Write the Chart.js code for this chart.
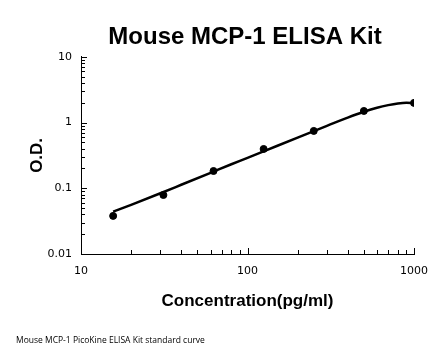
<!DOCTYPE html>
<html>
<head>
<meta charset="utf-8">
<script src="https://cdn.jsdelivr.net/npm/chart.js@4"></script>
<style>
  html, body { margin: 0; padding: 0; background: #fff; }
  #wrap { width: 446px; height: 356px; position: relative; }
</style>
</head>
<body>
<div id="wrap"><canvas id="c" width="446" height="356"></canvas></div>
<script>
// Standard points
const concentrations = [15.6, 31.25, 62.5, 125, 250, 500, 1000];
const odValues = [0.038, 0.079, 0.183, 0.396, 0.745, 1.50, 1.99];
// Fitted curve
const curveX = [15.6, 20, 30, 40, 60, 80, 100, 150, 200, 300, 400, 500, 600, 700, 800, 900, 1000];
const curveY = [0.044, 0.056, 0.084, 0.113, 0.172, 0.232, 0.29, 0.44, 0.59, 0.89, 1.19, 1.46, 1.68, 1.84, 1.95, 2.0, 1.97];
// Tick labels
const xTickValues = [10, 100, 1000];
const xTickLabels = ['10', '100', '1000'];
const yTickValues = [0.01, 0.1, 1, 10];
const yTickLabels = ['0.01', '0.1', '1', '10'];

const titleText = 'Mouse MCP-1 ELISA Kit';
const xTitle = 'Concentration(pg/ml)';
const yTitle = 'O.D.';
const footerText = 'Mouse MCP-1 PicoKine ELISA Kit standard curve';

const inwardTicks = {
  id: 'inwardTicks',
  afterDraw(chart) {
    const ctx = chart.ctx;
    ctx.save();
    ctx.strokeStyle = '#000';
    ctx.lineWidth = 1;
    const xs = chart.scales.x, ys = chart.scales.y;
    const y0 = ys.bottom, x0 = xs.left;
    [10, 100].forEach(d => {
      for (let m = 1; m <= 10; m++) {
        const v = m * d;
        const px = Math.round(xs.getPixelForValue(v)) + 0.5;
        const len = (m === 1 || m === 10) ? 6 : 4;
        ctx.beginPath(); ctx.moveTo(px, y0); ctx.lineTo(px, y0 - len); ctx.stroke();
      }
    });
    [0.01, 0.1, 1].forEach(d => {
      for (let m = 1; m <= 10; m++) {
        const v = m * d;
        const py = Math.round(ys.getPixelForValue(v)) + 0.5;
        const len = (m === 1 || m === 10) ? 6 : 4;
        ctx.beginPath(); ctx.moveTo(x0, py); ctx.lineTo(x0 + len, py); ctx.stroke();
      }
    });
    // footer
    ctx.fillStyle = '#000';
    ctx.font = '8.5px "Open Sans"';
    ctx.textBaseline = 'middle';
    ctx.textAlign = 'left';
    ctx.fillText(footerText, 16, 341);
    ctx.restore();
  }
};

new Chart(document.getElementById('c'), {
  data: {
    datasets: [
      {
        type: 'line',
        data: curveX.map((x, i) => ({ x, y: curveY[i] })),
        borderColor: '#000',
        borderWidth: 2.5,
        pointRadius: 0,
        cubicInterpolationMode: 'monotone',
        fill: false
      },
      {
        type: 'scatter',
        data: concentrations.map((x, i) => ({ x, y: odValues[i] })),
        backgroundColor: '#000',
        borderColor: '#000',
        pointRadius: 3.5,
        pointHoverRadius: 3.5
      }
    ]
  },
  options: {
    responsive: false,
    animation: false,
    events: [],
    layout: { padding: { left: 44, right: 0, top: 0, bottom: 0 } },
    plugins: {
      legend: { display: false },
      tooltip: { enabled: false },
      title: {
        display: true,
        text: titleText,
        color: '#000',
        font: { family: '"Liberation Sans", Arial, sans-serif', size: 24, weight: 'bold' },
        padding: { top: 23, bottom: 5 }
      }
    },
    scales: {
      x: {
        type: 'logarithmic',
        min: 10, max: 1000,
        afterBuildTicks: s => { s.ticks = xTickValues.map(v => ({ value: v })); },
        afterFit: s => { s.height = 102; },
        ticks: {
          color: '#000',
          font: { family: '"DejaVu Sans", sans-serif', size: 11 },
          padding: 11,
          maxRotation: 0,
          autoSkip: false,
          callback: (v) => { const i = xTickValues.indexOf(v); return i >= 0 ? xTickLabels[i] : ''; }
        },
        grid: { display: true, drawOnChartArea: false, drawTicks: false },
        border: { display: true, color: '#000', width: 1 },
        title: {
          display: true,
          text: xTitle,
          color: '#000',
          font: { family: '"Liberation Sans", Arial, sans-serif', size: 17, weight: 'bold' },
          padding: { top: 0, bottom: 44 }
        }
      },
      y: {
        type: 'logarithmic',
        min: 0.01, max: 10,
        afterBuildTicks: s => { s.ticks = yTickValues.map(v => ({ value: v })); },
        afterFit: s => { s.width = 37; },
        ticks: {
          color: '#000',
          font: { family: '"DejaVu Sans", sans-serif', size: 11 },
          padding: 9,
          autoSkip: false,
          callback: (v) => { const i = yTickValues.indexOf(v); return i >= 0 ? yTickLabels[i] : ''; }
        },
        grid: { display: true, drawOnChartArea: false, drawTicks: false },
        border: { display: true, color: '#000', width: 1 },
        title: {
          display: true,
          text: yTitle,
          color: '#000',
          font: { family: '"Liberation Sans", Arial, sans-serif', size: 17, weight: 'bold' },
          padding: { top: -17, bottom: 0 }
        }
      },
      y2: {
        type: 'linear',
        position: 'right',
        display: true,
        afterFit: s => { s.width = 32; },
        ticks: { display: false },
        grid: { display: false, drawTicks: false },
        border: { display: false }
      }
    }
  },
  plugins: [inwardTicks]
});
</script>
</body>
</html>
